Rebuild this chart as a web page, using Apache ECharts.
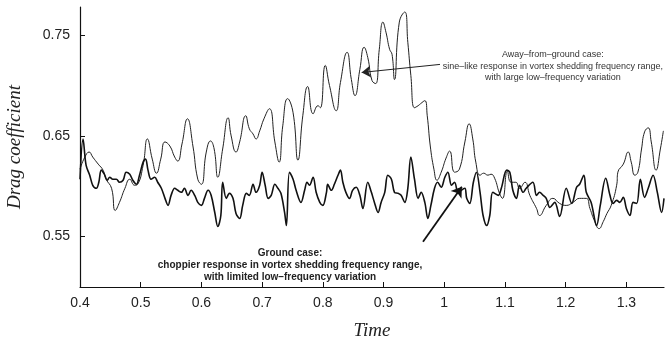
<!DOCTYPE html>
<html>
<head>
<meta charset="utf-8">
<script src="https://cdn.jsdelivr.net/npm/echarts@6/dist/echarts.min.js"></script>
<style>
  html, body { margin: 0; padding: 0; background: #fff; }
  #chart { width: 665px; height: 340px; }
</style>
</head>
<body>
<div id="chart"></div>
<script>
// Drag coefficient histories: away from the ground vs. in ground effect
const awayTime = [0.400,0.408,0.415,0.421,0.430,0.438,0.443,0.452,0.458,0.465,0.474,0.482,0.490,0.495,0.504,0.511,0.519,0.526,0.533,0.540,0.548,0.556,0.561,0.568,0.577,0.586,0.594,0.600,0.608,0.615,0.621,0.627,0.635,0.644,0.649,0.657,0.663,0.673,0.679,0.685,0.690,0.696,0.703,0.712,0.721,0.728,0.734,0.742,0.751,0.759,0.767,0.775,0.784,0.792,0.796,0.804,0.811,0.822,0.829,0.840,0.847,0.853,0.861,0.868,0.874,0.881,0.887,0.893,0.899,0.904,0.910,0.914,0.918,0.926,0.935,0.940,0.945,0.951,0.957,0.961,0.968,0.972,0.977,0.983,0.988,0.995,1.003,1.009,1.017,1.025,1.034,1.041,1.047,1.052,1.059,1.065,1.072,1.077,1.083,1.091,1.096,1.104,1.110,1.118,1.124,1.133,1.141,1.152,1.157,1.168,1.179,1.190,1.201,1.212,1.223,1.234,1.240,1.248,1.255,1.262,1.268,1.275,1.284,1.286,1.295,1.303,1.308,1.314,1.319,1.325,1.330,1.336,1.341,1.349,1.356,1.361];
const awayDrag = [0.617,0.629,0.634,0.629,0.622,0.616,0.607,0.598,0.576,0.584,0.598,0.607,0.601,0.602,0.621,0.647,0.627,0.613,0.627,0.644,0.640,0.629,0.625,0.642,0.667,0.640,0.607,0.602,0.634,0.645,0.637,0.609,0.637,0.668,0.650,0.634,0.644,0.670,0.657,0.652,0.647,0.655,0.667,0.677,0.644,0.624,0.660,0.687,0.673,0.626,0.670,0.699,0.672,0.680,0.678,0.720,0.700,0.675,0.703,0.733,0.706,0.690,0.716,0.738,0.728,0.705,0.702,0.736,0.763,0.753,0.736,0.731,0.706,0.763,0.773,0.743,0.710,0.678,0.680,0.682,0.685,0.670,0.640,0.617,0.606,0.614,0.628,0.635,0.614,0.617,0.644,0.662,0.647,0.624,0.611,0.613,0.611,0.612,0.608,0.593,0.588,0.615,0.604,0.604,0.598,0.604,0.591,0.578,0.571,0.581,0.588,0.583,0.581,0.584,0.588,0.588,0.578,0.565,0.558,0.565,0.573,0.581,0.601,0.614,0.622,0.634,0.624,0.611,0.614,0.637,0.654,0.658,0.644,0.616,0.637,0.655];

const groundTime = [0.400,0.405,0.410,0.416,0.421,0.427,0.431,0.435,0.440,0.445,0.449,0.454,0.460,0.465,0.471,0.476,0.482,0.487,0.493,0.498,0.504,0.508,0.512,0.517,0.523,0.528,0.534,0.540,0.545,0.550,0.556,0.561,0.567,0.572,0.578,0.583,0.589,0.594,0.600,0.605,0.611,0.616,0.622,0.627,0.632,0.635,0.641,0.646,0.652,0.657,0.663,0.668,0.674,0.679,0.685,0.690,0.696,0.700,0.705,0.710,0.715,0.721,0.726,0.731,0.737,0.740,0.745,0.751,0.756,0.764,0.770,0.774,0.778,0.784,0.789,0.795,0.800,0.806,0.808,0.814,0.819,0.825,0.829,0.833,0.838,0.844,0.849,0.855,0.861,0.866,0.874,0.880,0.885,0.891,0.896,0.902,0.907,0.913,0.918,0.924,0.929,0.935,0.940,0.945,0.951,0.957,0.962,0.968,0.973,0.978,0.984,0.989,0.995,1.001,1.006,1.012,1.017,1.023,1.028,1.034,1.037,1.042,1.048,1.053,1.059,1.064,1.070,1.075,1.080,1.089,1.094,1.103,1.108,1.113,1.119,1.124,1.130,1.135,1.146,1.152,1.157,1.163,1.168,1.174,1.182,1.190,1.201,1.210,1.218,1.223,1.230,1.234,1.242,1.251,1.257,1.266,1.273,1.278,1.284,1.289,1.295,1.300,1.306,1.311,1.317,1.323,1.330,1.336,1.344,1.351,1.358,1.362];
const groundDrag = [0.607,0.647,0.621,0.611,0.601,0.598,0.604,0.616,0.612,0.606,0.609,0.607,0.607,0.604,0.606,0.614,0.612,0.606,0.602,0.611,0.624,0.627,0.616,0.607,0.609,0.604,0.598,0.588,0.581,0.591,0.598,0.596,0.594,0.598,0.591,0.596,0.591,0.584,0.581,0.588,0.596,0.591,0.574,0.560,0.571,0.604,0.588,0.593,0.588,0.573,0.568,0.581,0.593,0.591,0.602,0.594,0.601,0.614,0.601,0.588,0.591,0.602,0.598,0.593,0.574,0.561,0.614,0.607,0.596,0.584,0.596,0.604,0.601,0.609,0.594,0.584,0.581,0.594,0.602,0.596,0.602,0.611,0.616,0.604,0.594,0.588,0.596,0.599,0.591,0.578,0.604,0.594,0.584,0.574,0.584,0.594,0.611,0.607,0.594,0.593,0.591,0.584,0.598,0.629,0.607,0.588,0.594,0.584,0.568,0.581,0.598,0.604,0.599,0.609,0.614,0.601,0.604,0.593,0.596,0.598,0.588,0.583,0.604,0.614,0.594,0.571,0.561,0.571,0.594,0.591,0.598,0.616,0.614,0.596,0.588,0.601,0.594,0.598,0.604,0.591,0.594,0.591,0.588,0.579,0.584,0.570,0.598,0.583,0.599,0.602,0.611,0.594,0.584,0.561,0.581,0.608,0.591,0.583,0.586,0.584,0.589,0.578,0.571,0.584,0.583,0.607,0.589,0.598,0.611,0.594,0.574,0.588];

const xTickValues = [0.4, 0.5, 0.6, 0.7, 0.8, 0.9, 1.0, 1.1, 1.2, 1.3];
const yTickValues = [0.55, 0.65, 0.75];

// Annotation anchors and arrows, in data coordinates [time, drag]
const awayNoteAt = [1.179, 0.719];
const awayArrow = [[0.993, 0.721], [0.864, 0.713]];
const groundNoteAt = [0.746, 0.5215];
const groundArrow = [[0.965, 0.545], [1.029, 0.5995]];

const awayNote = 'Away\u2013from\u2013ground case:\nsine\u2013like response in vortex shedding frequency range,\nwith large low\u2013frequency variation';
const groundNote = 'Ground case:\nchoppier response in vortex shedding frequency range,\nwith limited low\u2013frequency variation';

const pairs = (xs, ys) => xs.map((x, i) => [x, ys[i]]);

const chart = echarts.init(document.getElementById('chart'), null, { renderer: 'canvas' });

const axisFont = 'Liberation Sans, Arial, Helvetica, sans-serif';

chart.setOption({
  animation: false,
  backgroundColor: '#fff',
  grid: { left: 80, right: 1, top: 7, bottom: 53, containLabel: false, outerBoundsMode: 'none' },
  xAxis: {
    type: 'value',
    min: 0.4,
    max: 1.362,
    interval: 0.1,
    name: 'Time',
    nameLocation: 'middle',
    nameGap: 34,
    nameTextStyle: { fontFamily: 'Liberation Serif, serif', fontStyle: 'italic', fontSize: 19, color: '#222' },
    axisLine: { lineStyle: { color: '#111', width: 1.2 } },
    axisTick: { inside: true, length: 5, customValues: xTickValues, lineStyle: { color: '#111', width: 1 } },
    axisLabel: { fontFamily: axisFont, fontSize: 14, color: '#222', margin: 9, customValues: xTickValues },
    splitLine: { show: false }
  },
  yAxis: {
    type: 'value',
    min: 0.5,
    max: 0.778,
    name: 'Drag coefficient',
    nameLocation: 'middle',
    nameGap: 56,
    nameRotate: 90,
    nameTextStyle: { fontFamily: 'Liberation Serif, serif', fontStyle: 'italic', fontSize: 19, color: '#222' },
    axisLine: { show: true, lineStyle: { color: '#111', width: 1.2 } },
    axisTick: { show: true, inside: true, length: 5, customValues: yTickValues, lineStyle: { color: '#111', width: 1 } },
    axisLabel: { fontFamily: axisFont, fontSize: 14, color: '#222', margin: 10, customValues: yTickValues },
    splitLine: { show: false }
  },
  series: [
    {
      name: 'Away from ground',
      type: 'line',
      data: pairs(awayTime, awayDrag),
      showSymbol: false,
      smooth: 0.5,
      lineStyle: { color: '#222', width: 1 },
      z: 2,
      markLine: {
        silent: true,
        symbol: ['none', 'arrow'],
        symbolSize: 9,
        label: { show: false },
        lineStyle: { color: '#222', width: 1, type: 'solid' },
        data: [[{ coord: awayArrow[0] }, { coord: awayArrow[1] }]]
      }
    },
    {
      name: 'Ground',
      type: 'line',
      data: pairs(groundTime, groundDrag),
      showSymbol: false,
      smooth: 0.35,
      lineStyle: { color: '#111', width: 1.6 },
      z: 3,
      markLine: {
        silent: true,
        symbol: ['none', 'arrow'],
        symbolSize: 10,
        label: { show: false },
        lineStyle: { color: '#111', width: 1.8, type: 'solid' },
        data: [[{ coord: groundArrow[0] }, { coord: groundArrow[1] }]]
      }
    }
  ]
});

// Place the two notes at their data-space anchors
const awayPx = chart.convertToPixel({ gridIndex: 0 }, awayNoteAt);
const groundPx = chart.convertToPixel({ gridIndex: 0 }, groundNoteAt);

chart.setOption({
  graphic: [
    {
      type: 'text',
      x: awayPx[0], y: awayPx[1],
      style: {
        text: awayNote,
        fontFamily: axisFont, fontSize: 9, lineHeight: 11.5,
        fill: '#333', align: 'center', verticalAlign: 'middle'
      }
    },
    {
      type: 'text',
      x: groundPx[0], y: groundPx[1],
      style: {
        text: groundNote,
        fontFamily: axisFont, fontSize: 10, fontWeight: 'bold', lineHeight: 12,
        fill: '#222', align: 'center', verticalAlign: 'middle'
      }
    }
  ]
});
</script>
</body>
</html>
